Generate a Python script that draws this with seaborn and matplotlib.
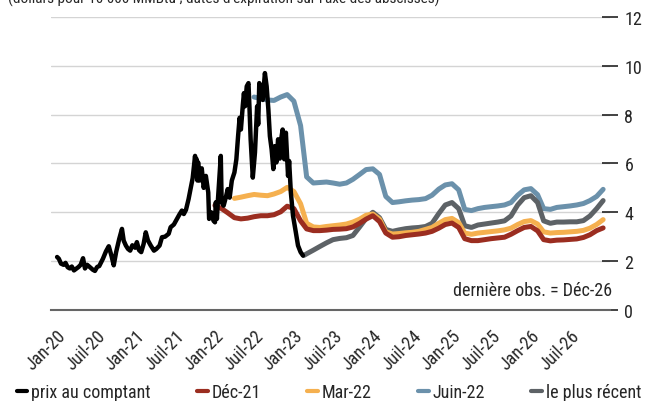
import pandas as pd
import matplotlib
matplotlib.use("Agg")
import matplotlib.pyplot as plt
from matplotlib import font_manager
import seaborn as sns

# --- données ---
spot_dates = [
    "2020-01-02", "2020-01-10", "2020-01-20", "2020-02-01", "2020-02-10", "2020-02-20",
    "2020-03-01", "2020-03-10", "2020-03-20", "2020-04-01", "2020-04-10", "2020-04-20",
    "2020-05-01", "2020-05-10", "2020-05-20", "2020-06-01", "2020-06-15", "2020-06-25",
    "2020-07-05", "2020-07-15", "2020-08-01", "2020-08-15", "2020-08-28", "2020-09-10",
    "2020-09-20", "2020-10-01", "2020-10-15", "2020-10-28", "2020-11-05", "2020-11-15",
    "2020-11-25", "2020-12-05", "2020-12-15", "2020-12-28",
    "2021-01-05", "2021-01-15", "2021-01-25", "2021-02-05", "2021-02-15", "2021-02-25",
    "2021-03-10", "2021-03-25", "2021-04-05", "2021-04-20", "2021-05-01", "2021-05-15",
    "2021-06-01", "2021-06-10", "2021-06-25", "2021-07-05", "2021-07-20", "2021-08-01",
    "2021-08-10", "2021-08-20", "2021-09-01", "2021-09-10", "2021-09-20", "2021-10-01",
    "2021-10-05", "2021-10-08", "2021-10-12", "2021-10-15", "2021-10-22", "2021-11-01",
    "2021-11-10", "2021-11-20", "2021-12-01", "2021-12-05", "2021-12-15", "2021-12-25",
    "2022-01-01", "2022-01-05", "2022-01-10", "2022-01-15", "2022-01-28", "2022-02-01",
    "2022-02-10", "2022-02-20", "2022-03-01", "2022-03-10", "2022-03-20", "2022-04-01",
    "2022-04-10", "2022-04-18", "2022-04-25", "2022-05-01", "2022-05-10", "2022-05-15",
    "2022-05-20", "2022-05-28", "2022-06-05", "2022-06-10", "2022-06-15", "2022-06-25",
    "2022-07-05", "2022-07-15", "2022-07-20", "2022-07-25", "2022-08-01", "2022-08-10",
    "2022-08-20", "2022-08-28", "2022-09-05", "2022-09-12", "2022-09-20", "2022-09-28",
    "2022-10-05", "2022-10-12", "2022-10-20", "2022-10-28", "2022-11-05", "2022-11-10",
    "2022-11-18", "2022-11-25", "2022-12-05", "2022-12-10", "2022-12-18", "2022-12-28",
    "2023-01-10", "2023-01-20", "2023-02-01", "2023-02-12",
]
spot_vals = [
    2.17, 2.10, 1.90, 1.85, 1.93, 1.75,
    1.70, 1.78, 1.62, 1.70, 1.76, 1.85,
    2.12, 1.70, 1.85, 1.76, 1.65, 1.60,
    1.76, 1.80, 2.10, 2.40, 2.61, 2.20,
    1.83, 2.37, 2.90, 3.32, 2.84, 2.64,
    2.50, 2.43, 2.65, 2.55,
    2.78, 2.45, 2.37, 2.70, 3.18, 2.85,
    2.64, 2.43, 2.50, 2.64, 2.98, 3.00,
    3.12, 3.39, 3.50, 3.66, 3.90, 4.07,
    3.93, 4.10, 4.54, 4.95, 5.40, 6.31,
    5.63, 6.18, 5.30, 6.05, 5.30, 5.80,
    5.00, 5.49, 4.81, 3.73, 4.00, 3.66,
    3.59, 4.41, 3.73, 4.54, 6.31, 4.41,
    4.27, 4.60, 4.95, 4.60, 5.30, 5.63,
    6.17, 7.12, 7.87, 7.39, 8.40, 8.88,
    8.34, 9.16, 9.29, 8.21, 6.99, 5.42,
    6.44, 8.34, 7.60, 9.29, 9.16, 8.60,
    9.70, 9.16, 8.21, 7.12, 6.58, 5.77,
    6.71, 6.04, 6.99, 6.20, 7.10, 7.39,
    6.17, 7.26, 5.49, 6.10, 4.81, 3.86,
    3.18, 2.64, 2.37, 2.23,
]

dec21_start = "2022-01-01"
dec21_vals = [
    4.28, 4.15, 3.98, 3.78, 3.73, 3.76, 3.82, 3.86, 3.86, 3.90, 4.02, 4.25,
    4.15, 3.65, 3.32, 3.25, 3.25, 3.27, 3.30, 3.31, 3.33, 3.40, 3.55, 3.72,
    3.86, 3.62, 3.15, 2.98, 3.00, 3.05, 3.08, 3.11, 3.15, 3.22, 3.35, 3.50,
    3.56, 3.38, 2.92, 2.84, 2.84, 2.88, 2.92, 2.95, 2.98, 3.10, 3.25, 3.38,
    3.42, 3.24, 2.88, 2.83, 2.86, 2.87, 2.89, 2.91, 2.97, 3.08, 3.25, 3.36,
]

mar22_start = "2022-04-01"
mar22_vals = [
    4.57, 4.62, 4.68, 4.73, 4.70, 4.68, 4.75, 4.85, 5.02,
    4.85, 4.35, 3.55, 3.40, 3.38, 3.42, 3.45, 3.48, 3.52, 3.60, 3.72, 3.88,
    3.93, 3.72, 3.20, 3.11, 3.13, 3.16, 3.18, 3.22, 3.30, 3.38, 3.55, 3.70,
    3.75, 3.58, 3.15, 3.10, 3.15, 3.18, 3.21, 3.24, 3.28, 3.35, 3.50, 3.62,
    3.66, 3.52, 3.20, 3.15, 3.17, 3.18, 3.20, 3.22, 3.26, 3.35, 3.50, 3.70,
]

jun22_start = "2022-07-01"
jun22_vals = [
    8.72, 8.66, 8.60, 8.58, 8.72, 8.82,
    8.55, 7.55, 5.45, 5.20, 5.22, 5.24, 5.20, 5.15, 5.20, 5.35, 5.55, 5.75,
    5.78, 5.55, 4.65, 4.40, 4.43, 4.47, 4.50, 4.52, 4.56, 4.70, 4.95, 5.12,
    5.17, 4.92, 4.12, 4.07, 4.15, 4.20, 4.23, 4.26, 4.30, 4.40, 4.70, 4.92,
    4.97, 4.72, 4.15, 4.12, 4.20, 4.23, 4.26, 4.30, 4.36, 4.48, 4.65, 4.94,
]

latest_start = "2023-03-01"
latest_first = ("2023-02-15", 2.23)
latest_vals = [
    2.30, 2.45, 2.60, 2.75, 2.88, 2.93, 2.96, 3.05, 3.40, 3.75,
    4.00, 3.78, 3.30, 3.22, 3.28, 3.33, 3.36, 3.38, 3.42, 3.55, 3.95, 4.30,
    4.40, 4.15, 3.45, 3.38, 3.48, 3.52, 3.56, 3.60, 3.65, 3.85, 4.30, 4.60,
    4.68, 4.40, 3.65, 3.55, 3.60, 3.60, 3.61, 3.61, 3.66, 3.85, 4.15, 4.48,
]

labels = ["prix au comptant", "Déc-21", "Mar-22", "Juin-22", "le plus récent"]
colors = ["#000000", "#9b2d20", "#f5b04f", "#6b91ab", "#5d6266"]

tick_labels = ["Jan-20", "Juil-20", "Jan-21", "Juil-21", "Jan-22", "Juil-22", "Jan-23",
               "Juil-23", "Jan-24", "Juil-24", "Jan-25", "Juil-25", "Jan-26", "Juil-26"]


def monthly(start, vals):
    return pd.date_range(start, periods=len(vals), freq="MS")


spot = pd.DataFrame({"date": pd.to_datetime(spot_dates), "val": spot_vals})
dec21 = pd.DataFrame({"date": monthly(dec21_start, dec21_vals), "val": dec21_vals})
mar22 = pd.DataFrame({"date": monthly(mar22_start, mar22_vals), "val": mar22_vals})
jun22 = pd.DataFrame({"date": monthly(jun22_start, jun22_vals), "val": jun22_vals})
latest = pd.DataFrame({
    "date": [pd.Timestamp(latest_first[0])] + list(monthly(latest_start, latest_vals)),
    "val": [latest_first[1]] + latest_vals,
})

sns.set_style("white")

# police étroite si disponible, sinon Roboto
installed = {f.name for f in font_manager.fontManager.ttflist}
if "Liberation Sans Narrow" in installed:
    plt.rcParams["font.family"] = ["Liberation Sans Narrow", "DejaVu Sans"]
    fs, fs_title = 13, 11
elif "Roboto Condensed" in installed:
    plt.rcParams["font.family"] = ["Roboto Condensed", "DejaVu Sans"]
    fs, fs_title = 13, 11
else:
    plt.rcParams["font.family"] = ["Roboto", "DejaVu Sans"]
    fs, fs_title = 12.5, 10
plt.rcParams["font.size"] = fs

fig = plt.figure(figsize=(6.46, 4.02), dpi=100)
ax = fig.add_axes([0.079, 0.2264, 0.865, 0.729])

# courbes à terme puis prix au comptant par-dessus
sns.lineplot(data=jun22, x="date", y="val", ax=ax, color=colors[3], linewidth=3.6, label=labels[3])
sns.lineplot(data=latest, x="date", y="val", ax=ax, color=colors[4], linewidth=3.6, label=labels[4])
sns.lineplot(data=mar22, x="date", y="val", ax=ax, color=colors[2], linewidth=3.6, label=labels[2])
sns.lineplot(data=dec21, x="date", y="val", ax=ax, color=colors[1], linewidth=3.6, label=labels[1])
sns.lineplot(data=spot, x="date", y="val", ax=ax, color=colors[0], linewidth=3.2, label=labels[0])

ax.set_xlim(pd.Timestamp("2019-12-05"), pd.Timestamp("2027-01-01"))
ax.set_ylim(0, 12)
ax.set_xlabel("")
ax.set_ylabel("")

ax.yaxis.tick_right()
ax.set_yticks(range(0, 13, 2))
ax.grid(axis="y", color="#d4d4d4", linewidth=1)
ax.tick_params(axis="y", direction="inout", length=11, width=1.2, color="#222222",
               labelsize=fs, pad=5)

xt = pd.date_range("2020-01-01", periods=len(tick_labels), freq="6MS")
ax.set_xticks(xt)
ax.set_xticklabels(tick_labels, rotation=45, ha="right", rotation_mode="anchor")
ax.tick_params(axis="x", direction="inout", length=11, width=1.2, color="#222222",
               labelsize=fs, pad=6)

for s in ["top", "left", "right"]:
    ax.spines[s].set_visible(False)
ax.spines["bottom"].set_color("#666666")
ax.spines["bottom"].set_linewidth(1.5)

ax.text(1.005, 0.068, "dernière obs. = Déc-26", transform=ax.transAxes,
        ha="right", va="center", fontsize=fs)

fig.text(0.012, 1 - 4 / 402, "(dollars pour 10 000 MMBtu ; dates d'expiration sur l'axe des abscisses)",
         ha="left", va="baseline", fontsize=fs_title)

handles, labs = ax.get_legend_handles_labels()
order = [labs.index(l) for l in labels]
ax.get_legend().remove()
leg = fig.legend([handles[i] for i in order], labels, loc="lower left",
                 bbox_to_anchor=(0.02, -0.01, 0.978, 0.045), mode="expand", ncol=5,
                 frameon=False, handlelength=0.6, handletextpad=0.2, fontsize=fs,
                 borderaxespad=0.0, borderpad=0.2)
for h in leg.legend_handles:
    h.set_linewidth(3)

fig.savefig("out.png", dpi=100)
